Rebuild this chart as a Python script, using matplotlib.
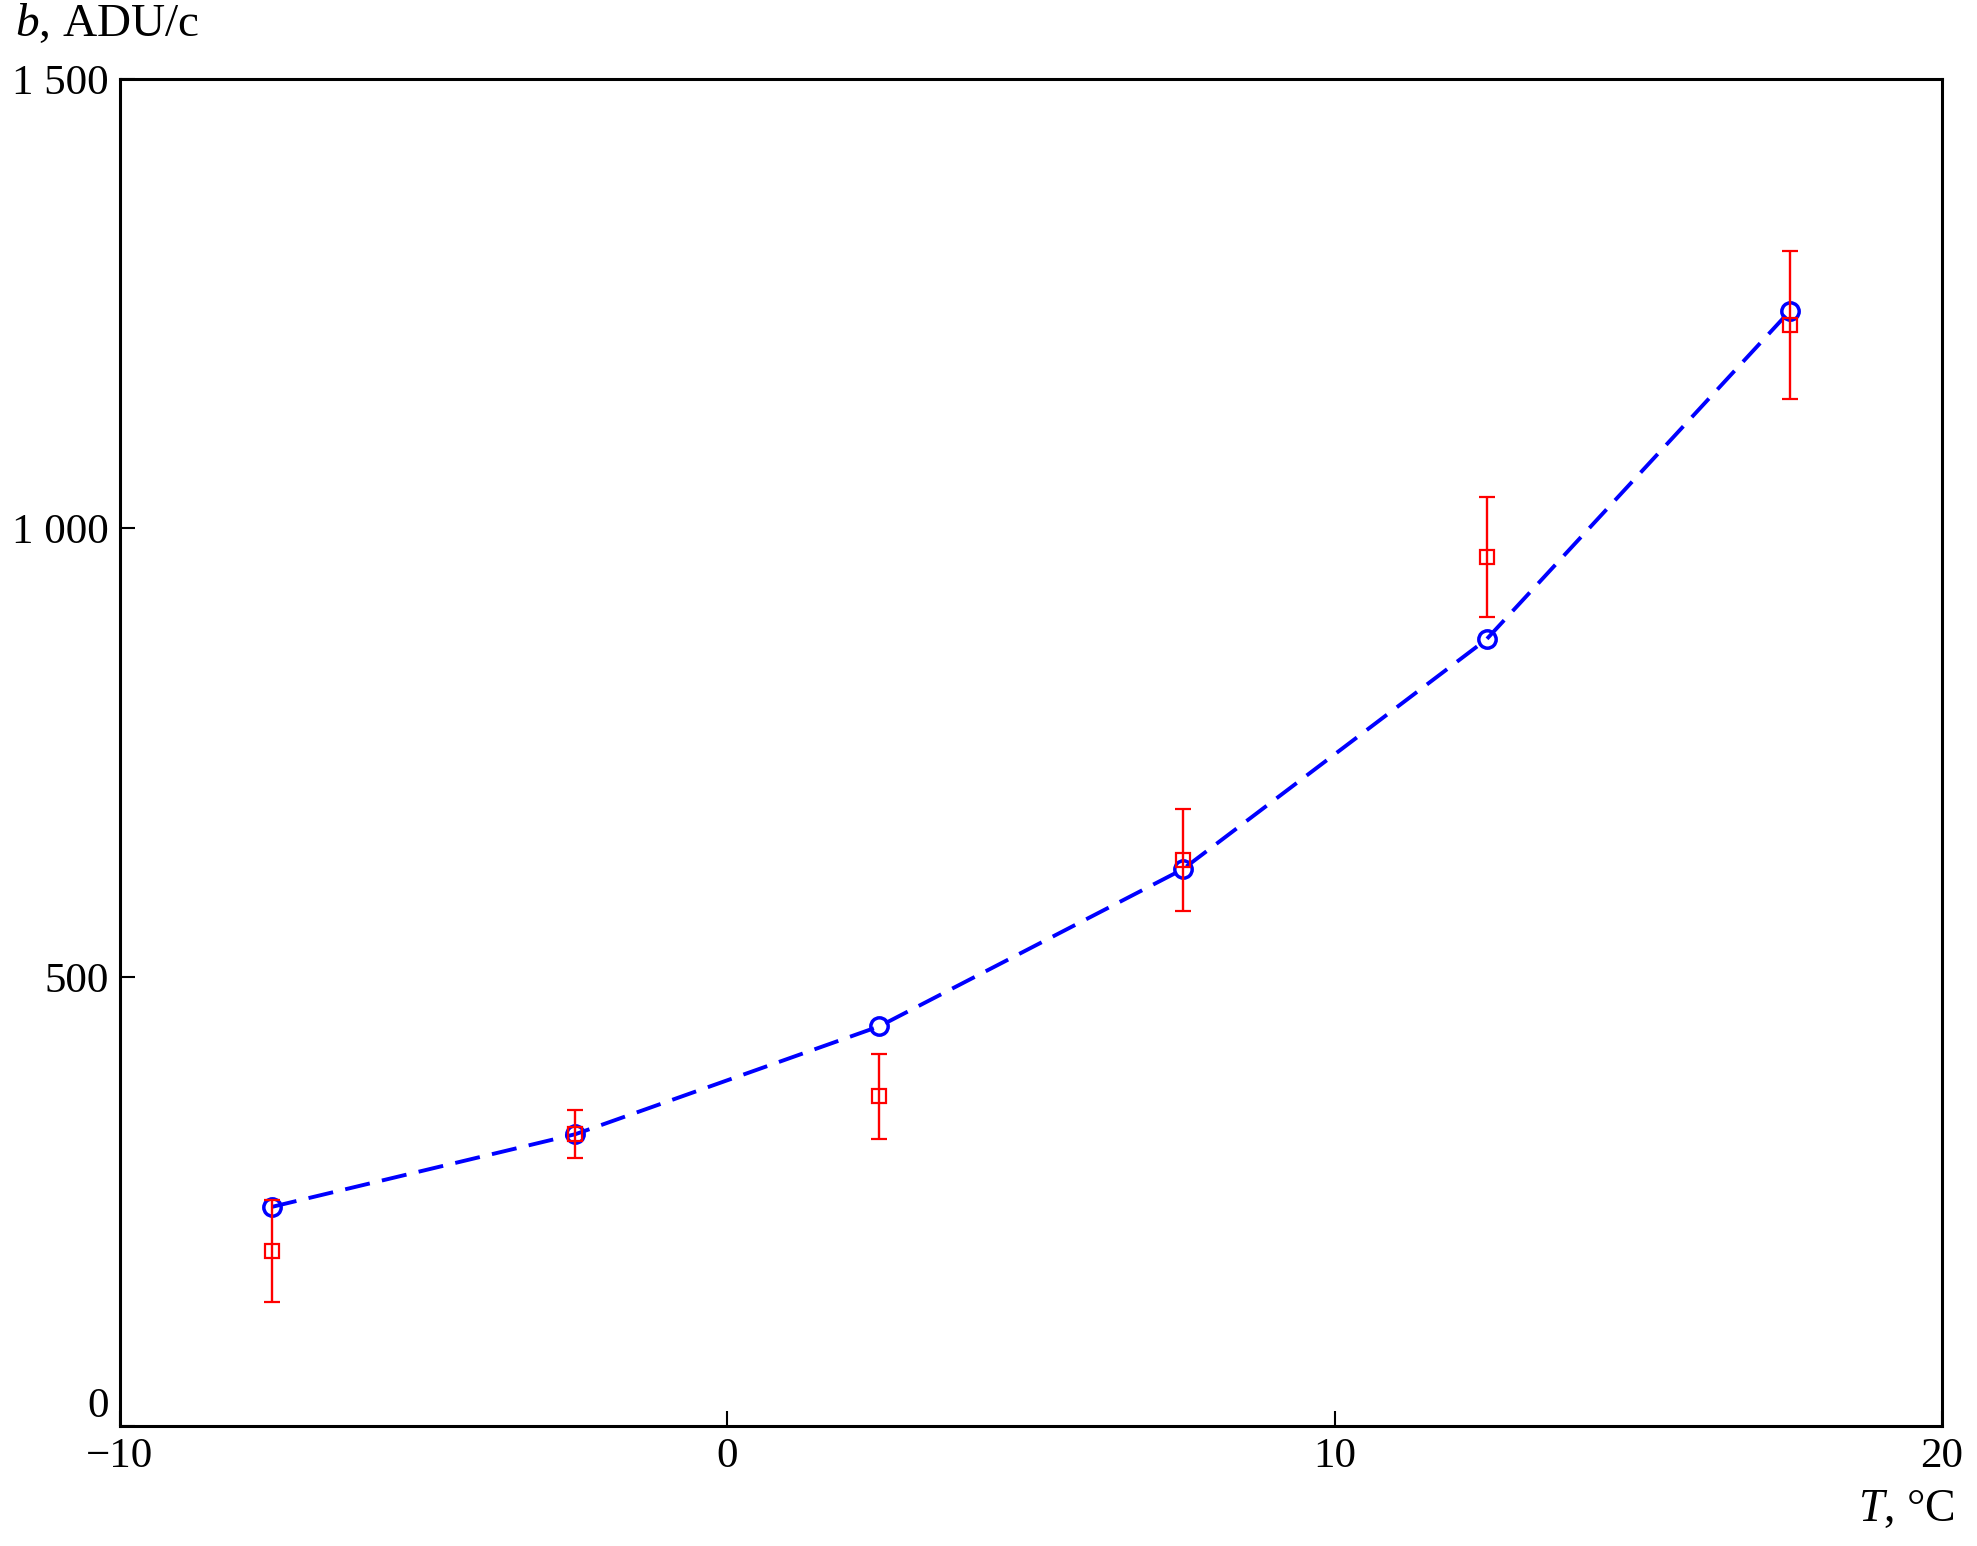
import matplotlib
matplotlib.use("Agg")
import matplotlib.pyplot as plt
from matplotlib.ticker import FuncFormatter

T = [-7.5, -2.5, 2.5, 7.5, 12.5, 17.5]
b_model = [244, 325, 445, 620, 876, 1242]
b_meas = [195, 325, 367, 630, 968, 1226]
b_err = [57, 27, 47, 57, 67, 82]

xticks = [-10, 0, 10, 20]
yticks = [0, 500, 1000, 1500]

plt.rcParams['font.family'] = ['Liberation Serif', 'DejaVu Serif']
plt.rcParams['mathtext.fontset'] = 'custom'
plt.rcParams['mathtext.it'] = 'Liberation Serif:italic'
plt.rcParams['mathtext.rm'] = 'Liberation Serif'

W, H = 1977, 1546
fig = plt.figure(figsize=(W/100, H/100), dpi=100)
ax = fig.add_axes([120/W, 1-1426/H, (1942-120)/W, (1426-79)/H])

ax.plot(T, b_model, color=(0, 0, 1), ls=(0, (6.5, 3.2)), lw=2.8,
        marker='o', ms=12.5, mfc='none', mec=(0, 0, 1), mew=2.5, zorder=3)
ax.errorbar(T, b_meas, yerr=b_err, fmt='s', color=(1, 0, 0), ms=10.5,
            mfc='none', mew=1.6, elinewidth=1.7, capsize=5.5, capthick=1.7, zorder=4)

ax.set_xlim(-10, 20)
ax.set_ylim(0, 1500)
ax.set_xticks(xticks)
ax.set_yticks(yticks)

def fmt_y(v, pos):
    return f"{int(v):,}".replace(",", " ")

ax.yaxis.set_major_formatter(FuncFormatter(fmt_y))
ax.xaxis.set_major_formatter(FuncFormatter(lambda v, p: f"{int(v)}".replace("-", "\u2212")))

ax.tick_params(direction='in', length=11, width=1.5, labelsize=31, top=False, right=False,
               pad=8)
for sp in ax.spines.values():
    sp.set_linewidth(2.2)

for lab in ax.get_yticklabels():
    if lab.get_text() == '0':
        lab.set_verticalalignment('bottom')

fig.text(15/W, 1-36/H, r"$b$, ADU/c", fontsize=34, ha='left', va='baseline')
fig.text(1955/W, 1-1521/H, r"$T$, °C", fontsize=33, ha='right', va='baseline')

fig.savefig("out.png", dpi=100, facecolor='white')
